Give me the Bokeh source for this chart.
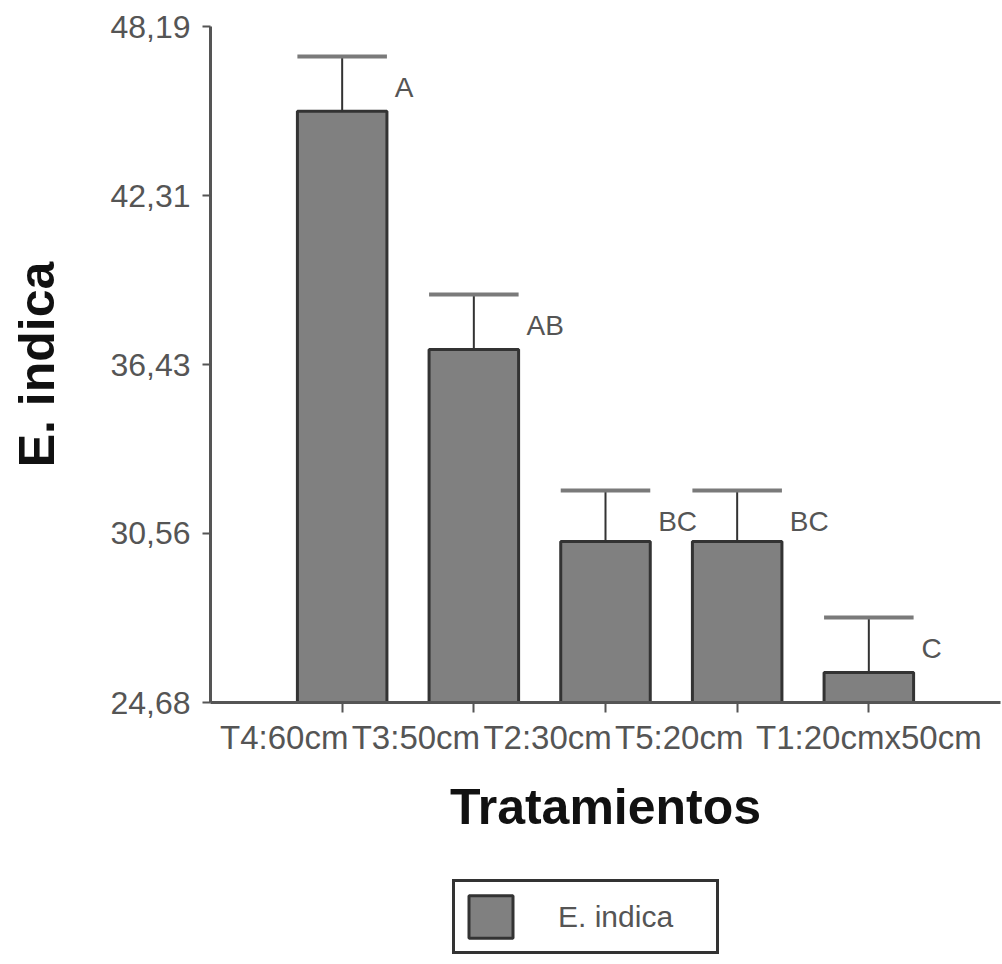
from bokeh.plotting import figure
from bokeh.layouts import column
from bokeh.models import Range1d, FixedTicker, Legend, LegendItem
from bokeh.core.properties import value
from bokeh.embed import file_html
from bokeh.resources import INLINE

# ---- data ----
categories = ["T4:60cm", "T3:50cm", "T2:30cm", "T5:20cm", "T1:20cmx50cm"]
means = [45.24, 36.96, 30.28, 30.28, 25.72]
upper = [47.15, 38.87, 32.05, 32.05, 27.64]
letters = ["A", "AB", "BC", "BC", "C"]
y_ticks = [24.68, 30.56, 36.43, 42.31, 48.19]
y_tick_labels = ["24,68", "30,56", "36,43", "42,31", "48,19"]
series_name = "E. indica"
x_title = "Tratamientos"
y_title = "E. indica"

FONT = "Liberation Sans"
BAR_STYLE = dict(fill_color="#808080", line_color="#333333", line_width=3)
xs = list(range(1, len(categories) + 1))
ymin, ymax = y_ticks[0], y_ticks[-1]
# horizontal shift of the tick labels (mimics the overlapping labels of the original)
label_shift = [-0.44, -0.44, -0.44, -0.44, 0.0]
label_pos = [round(x + s, 2) for x, s in zip(xs, label_shift)]

p = figure(width=1002, height=870, output_backend="svg", toolbar_location=None,
           x_range=Range1d(0, len(categories) + 1), y_range=Range1d(ymin, ymax),
           min_border_left=210, min_border_right=2, min_border_top=26,
           min_border_bottom=168)
p.outline_line_color = None
p.xgrid.visible = False
p.ygrid.visible = False

bars = p.vbar(x=xs, top=means, bottom=ymin, width=0.68, **BAR_STYLE)

# error bars
p.segment(x0=xs, y0=means, x1=xs, y1=upper, line_color="#333333", line_width=2)
p.segment(x0=[x - 0.34 for x in xs], y0=upper, x1=[x + 0.34 for x in xs], y1=upper,
          line_color="#7a7a7a", line_width=4)

# significance letters
p.text(x=[x + 0.4 for x in xs], y=upper, text=letters, text_font=value(FONT),
       text_font_size="28px", text_color="#555555", text_baseline="middle",
       text_align="left", y_offset=31)

# axes styling
for ax in (p.xaxis[0], p.yaxis[0]):
    ax.axis_line_color = "#555555"
    ax.axis_line_width = 3
    ax.major_tick_line_color = "#555555"
    ax.major_tick_line_width = 2
    ax.major_tick_in = 0
    ax.axis_label_text_font = FONT
    ax.axis_label_text_font_style = "bold"
    ax.axis_label_text_font_size = "50px"
    ax.axis_label_text_color = "#111111"

p.yaxis.ticker = FixedTicker(ticks=y_ticks)
p.yaxis.minor_tick_line_color = None
p.yaxis.major_label_overrides = {t: l for t, l in zip(y_ticks, y_tick_labels)}
p.yaxis.major_label_text_font = FONT
p.yaxis.major_label_text_font_size = "32px"
p.yaxis.major_label_text_color = "#555555"
p.yaxis.major_tick_out = 8
p.yaxis.major_label_standoff = 12
p.yaxis.axis_label = y_title
p.yaxis.axis_label_standoff = 42

# x axis: tick marks at the categories (minor ticks), labels at shifted positions
p.xaxis.ticker = FixedTicker(ticks=label_pos, minor_ticks=xs)
p.xaxis.major_tick_line_color = None
p.xaxis.minor_tick_line_color = "#555555"
p.xaxis.minor_tick_line_width = 2
p.xaxis.minor_tick_out = 10
p.xaxis.minor_tick_in = 0
p.xaxis.major_tick_out = 10
p.xaxis.major_label_standoff = 6
p.xaxis.major_label_overrides = {pos: name for pos, name in zip(label_pos, categories)}
p.xaxis.major_label_text_font = FONT
p.xaxis.major_label_text_font_size = "33px"
p.xaxis.major_label_text_color = "#555555"
p.xaxis.axis_label = x_title
p.xaxis.axis_label_standoff = 20

# legend strip underneath the chart (its frame is aligned with the chart's frame)
p2 = figure(width=1002, height=94, output_backend="svg", toolbar_location=None,
            x_range=Range1d(0, len(categories) + 1), y_range=Range1d(ymin, ymax),
            min_border=0, x_axis_location=None, y_axis_location=None)
p2.outline_line_color = None
p2.grid.visible = False
swatch = p2.vbar(x=xs, top=means, bottom=ymin, width=0.68, visible=False, **BAR_STYLE)
legend = Legend(items=[LegendItem(label=series_name, renderers=[swatch])],
                location=(242, 10), orientation="vertical",
                border_line_color="#333333", border_line_width=3, border_line_alpha=1,
                background_fill_color="white", background_fill_alpha=1,
                glyph_width=55, glyph_height=53, padding=8, margin=0,
                label_standoff=40, label_width=150, label_text_font=FONT,
                label_text_font_size="30px", label_text_color="#555555")
p2.add_layout(legend, "center")

layout = column(p, p2, spacing=0)
open("out.html", "w").write(file_html(layout, INLINE))
